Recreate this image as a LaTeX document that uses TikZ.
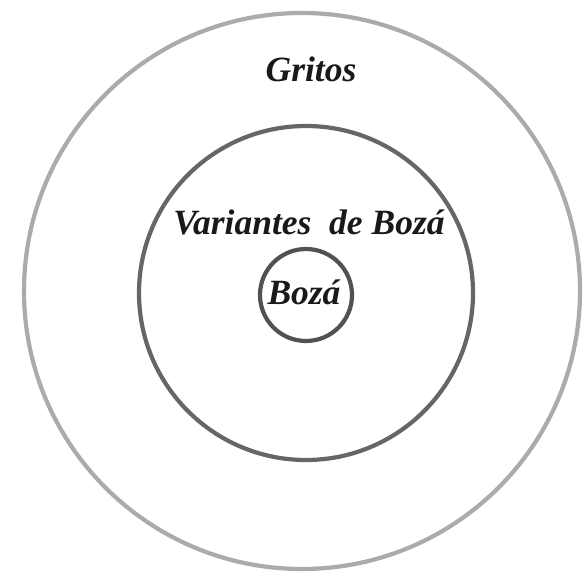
\documentclass[tikz,border=0pt]{standalone}
\usepackage{fontspec}
\setmainfont{Liberation Serif}
\begin{document}
\begin{tikzpicture}[x=1pt,y=1pt,
  ring/.style={circle,draw,line width=4.2pt,inner sep=0pt},
  lbl/.style={font=\bfseries\itshape\fontsize{35.5}{38}\selectfont,anchor=base,inner sep=0pt,text=black!90}]
\useasboundingbox (0,0) rectangle (583,573);
\node[ring,draw=black!33,minimum size=556pt] (outer) at (302,282) {};
\node[ring,draw=black!60,minimum size=334pt] (middle) at (306,280) {};
\node[ring,draw=black!68,minimum size=92pt] (inner) at (306,278) {};
\node[lbl] (gritos) at (311,491) {Gritos};
\node[lbl] (var) at (309,338) {Variantes\ \ de Bozá};
\node[lbl] (boza) at (304,268) {Bozá};
\end{tikzpicture}
\end{document}
